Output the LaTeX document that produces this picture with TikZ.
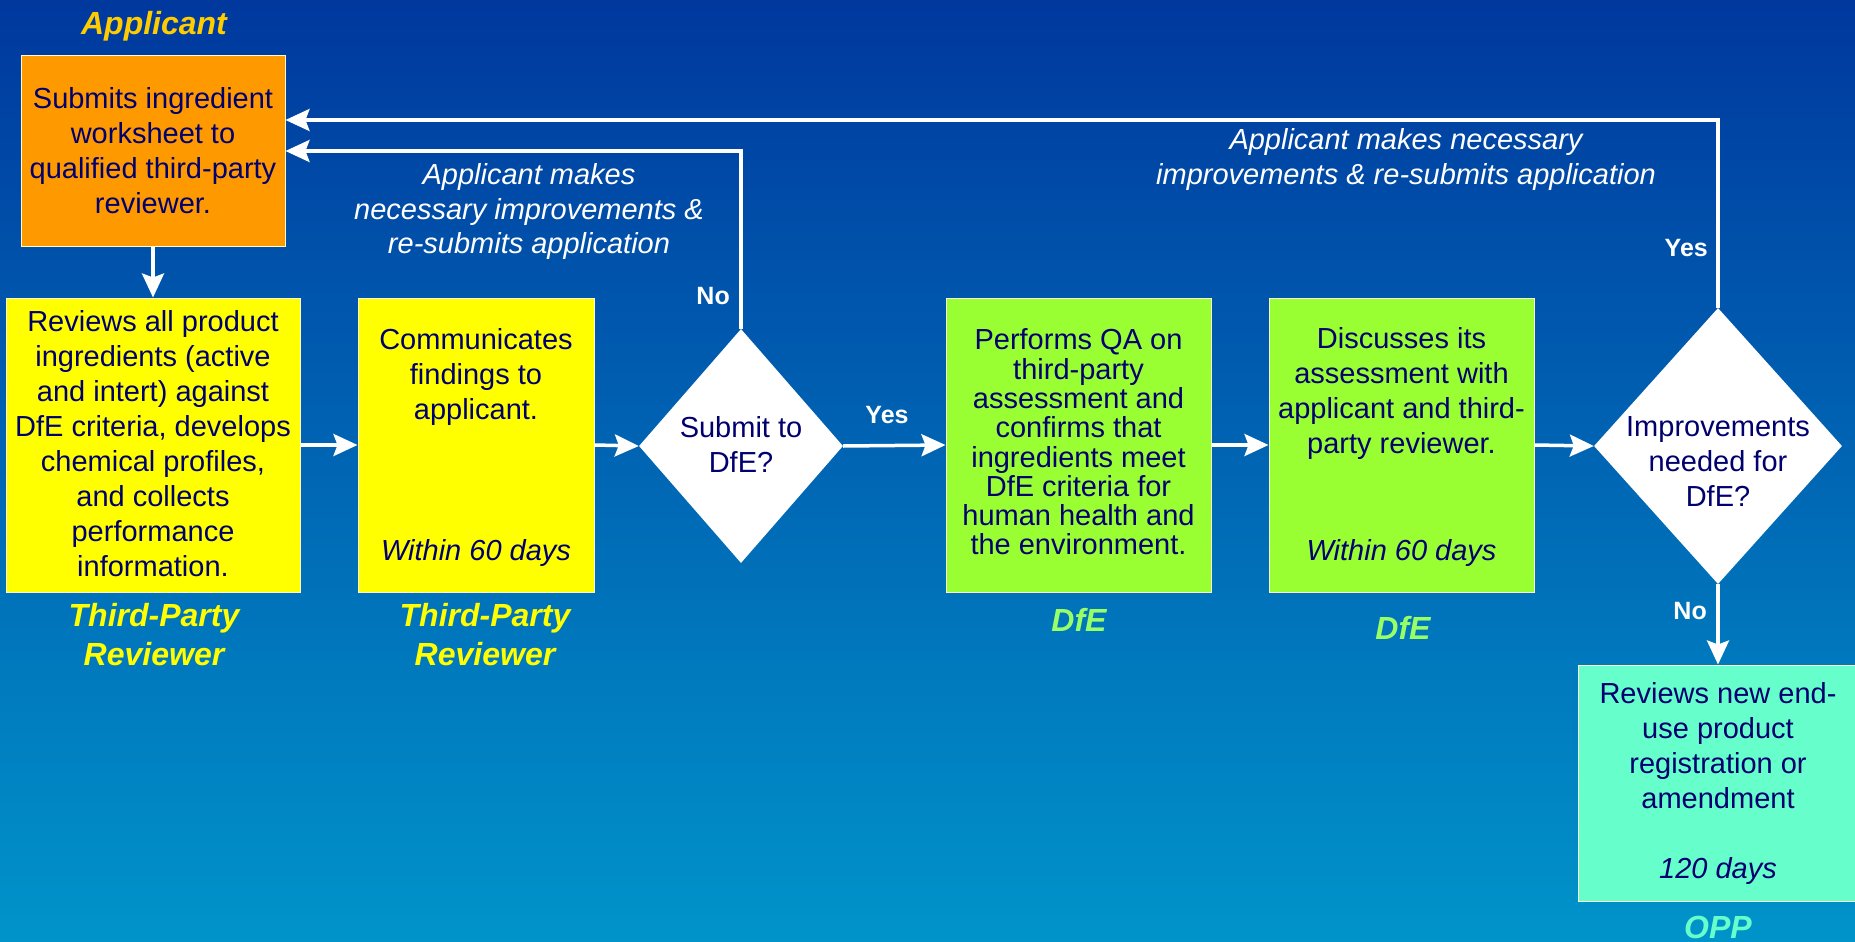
\documentclass[tikz,border=0pt]{standalone}
\usepackage{fontspec}
\setmainfont{Liberation Sans}
\usetikzlibrary{arrows.meta,shapes.geometric,calc}
\definecolor{bgtop}{RGB}{0,56,158}
\definecolor{bgbot}{RGB}{0,148,202}
\definecolor{navytxt}{RGB}{0,0,110}
\definecolor{orangebox}{RGB}{255,153,0}
\definecolor{yellowbox}{RGB}{255,255,0}
\definecolor{greenbox}{RGB}{153,255,51}
\definecolor{oppbox}{RGB}{102,255,204}
\definecolor{applabel}{RGB}{255,204,0}
\definecolor{dfelabel}{RGB}{153,255,102}
\tikzset{
  procbox/.style={draw=white!80!yellow, line width=1pt, inner sep=0pt},
  decision/.style={shape=diamond, fill=white, draw=none, inner sep=0pt},
  btext/.style={text=navytxt, align=center, inner sep=0pt, font=\fontsize{29}{35}\selectfont},
  ttext/.style={text=navytxt, align=center, inner sep=0pt, font=\fontsize{29}{29.3}\selectfont},
  itext/.style={text=navytxt, align=center, inner sep=0pt, font=\fontsize{29}{35}\selectfont\itshape},
  role/.style={align=center, inner sep=0pt, font=\fontsize{32}{39}\selectfont\bfseries\itshape},
  loopnote/.style={text=white, align=center, inner sep=0pt, font=\fontsize{29}{35}\selectfont\itshape},
  yn/.style={text=white, inner sep=0pt, font=\fontsize{25}{30}\selectfont\bfseries},
  arr/.style={draw=white, line width=3.5pt, -{Stealth[length=24pt,width=22pt,inset=4pt]}},
}
\begin{document}
\begin{tikzpicture}[x=1pt,y=-1pt]
\shade[top color=bgtop, bottom color=bgbot] (0,0) rectangle (1855,942);
\useasboundingbox (0,0) rectangle (1855,942);

% boxes
\node[procbox, fill=orangebox, minimum width=264pt, minimum height=190pt] (app) at (153,151) {};
\node[procbox, fill=yellowbox, minimum width=294pt, minimum height=294pt] (rev) at (153,445) {};
\node[procbox, fill=yellowbox, minimum width=236pt, minimum height=294pt] (com) at (476,445) {};
\node[decision, minimum width=204pt, minimum height=234pt] (d1) at (741,446) {};
\node[procbox, fill=greenbox, minimum width=265pt, minimum height=294pt] (qa) at (1078.5,445) {};
\node[procbox, fill=greenbox, minimum width=265pt, minimum height=294pt] (disc) at (1401.5,445) {};
\node[decision, minimum width=248pt, minimum height=276pt] (d2) at (1718,446) {};
\node[procbox, fill=oppbox, minimum width=280pt, minimum height=236pt] (opp) at (1718,783) {};

% box texts
\node[btext] (appt) at (153,151) {Submits ingredient\\worksheet to\\qualified third-party\\reviewer.};
\node[btext] (revt) at (153,443.5) {Reviews all product\\ingredients (active\\and intert) against\\DfE criteria, develops\\chemical profiles,\\and collects\\performance\\information.};
\node[btext] (comt) at (476,376.5) {Communicates\\findings to\\applicant.};
\node[itext] (comd) at (476,552.5) {Within 60 days};
\node[btext] (d1t) at (741,444) {Submit to\\DfE?};
\node[ttext] (qat) at (1078.5,442) {Performs QA on\\third-party\\assessment and\\confirms that\\ingredients meet\\DfE criteria for\\human health and\\the environment.};
\node[btext] (disct) at (1401.5,393) {Discusses its\\assessment with\\applicant and third-\\party reviewer.};
\node[itext] (discd) at (1401.5,552.5) {Within 60 days};
\node[btext] (d2t) at (1718,462) {Improvements\\needed for\\DfE?};
\node[btext] (oppt) at (1718,746) {Reviews new end-\\use product\\registration or\\amendment};
\node[itext] (oppd) at (1718,871) {120 days};

% role labels
\node[role, text=applabel] (lapp) at (154,26.5) {Applicant};
\node[role, text=yellowbox] (lrev) at (154,635) {Third-Party\\Reviewer};
\node[role, text=yellowbox] (lcom) at (485,635) {Third-Party\\Reviewer};
\node[role, text=dfelabel] (lqa) at (1079,620) {DfE};
\node[role, text=dfelabel] (ldisc) at (1403,628) {DfE};
\node[role, text=oppbox] (lopp) at (1718,927) {OPP};

% connectors
\draw[arr] (app.south) -- (rev.north);
\draw[arr] (rev.east) -- (com.west);
\draw[arr] (com.east) -- (d1.west);
\draw[arr] (d1.east) -- (qa.west);
\draw[arr] (qa.east) -- (disc.west);
\draw[arr] (disc.east) -- (d2.west);
\draw[arr] (d2.south) -- (opp.north);
\draw[arr] (d1.north) |- (app.east);
\draw[arr] (d2.north) |- ([yshift=31pt]app.east);

% connector labels
\node[yn, anchor=east] (no1) at (730,296) {No};
\node[yn] (yes1) at (887,415) {Yes};
\node[yn, anchor=east] (yes2) at (1708,248) {Yes};
\node[yn, anchor=east] (no2) at (1707,611) {No};
\node[loopnote] (note1) at (529,211.5) {Applicant makes\\necessary improvements \&\\re-submits application};
\node[loopnote] (note2) at (1406,159.5) {Applicant makes necessary\\improvements \& re-submits application};
\end{tikzpicture}
\end{document}
